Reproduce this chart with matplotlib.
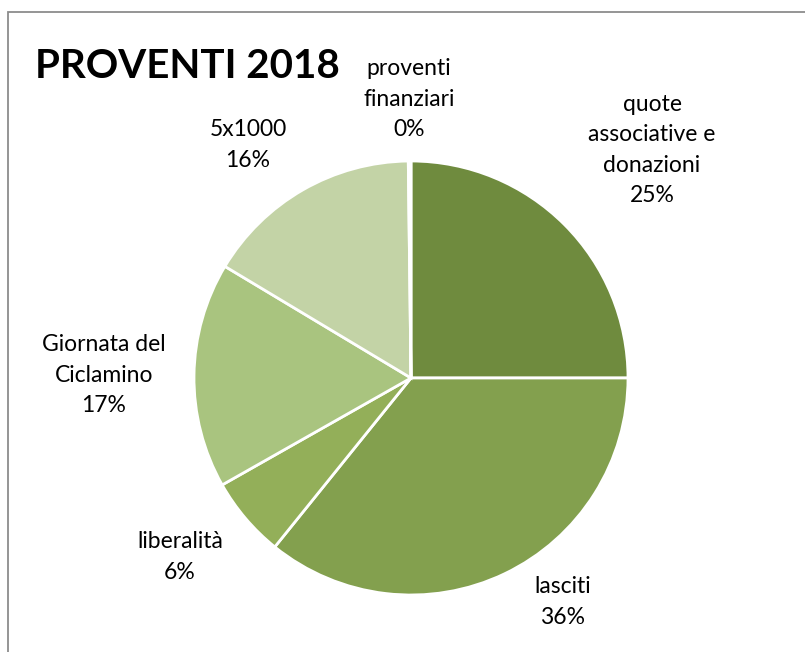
import matplotlib.pyplot as plt
from matplotlib.patches import Rectangle

# data (percent shares), clockwise from 12 o'clock
categories = ["quote\nassociative e\ndonazioni", "lasciti", "liberalità",
              "Giornata del\nCiclamino", "5x1000", "proventi\nfinanziari"]
shares = [25.0, 35.8, 6.0, 16.8, 16.2, 0.2]
colors = ["#6F8B3E", "#83A04E", "#93AF59", "#A9C47F", "#C3D3A6", "#D8E4C8"]

# label anchor points in pixels (x, y from top)
label_pos = [(652, 150), (563, 602), (180, 557), (104, 375), (248, 145), (409, 99)]

W, H = 805, 652
fig = plt.figure(figsize=(W / 100, H / 100), dpi=100)
ax = fig.add_axes([0, 0, 1, 1])

# chart frame (right and bottom edges fall outside the picture)
fig.patches.append(Rectangle((8 / W, -0.1), 1.2, (H - 12) / H + 0.1,
                             transform=fig.transFigure, fill=False,
                             edgecolor="#8C8C8C", linewidth=1.3))

wedges, _ = ax.pie(shares, colors=colors, startangle=90, counterclock=False,
                   center=(411, H - 378), radius=217,
                   wedgeprops=dict(edgecolor="white", linewidth=2))

ax.set_xlim(0, W)
ax.set_ylim(0, H)
ax.set_aspect("equal")
ax.axis("off")

total = sum(shares)
for name, val, (px, py) in zip(categories, shares, label_pos):
    ax.text(px, H - py, f"{name}\n{val / total * 100:.0f}%", ha="center", va="center",
            fontsize=16.5, family="Lato", linespacing=1.55, color="#000000")

fig.text(35 / W, 1 - 66 / H, "PROVENTI 2018", ha="left", va="center",
         fontsize=29, fontweight="bold", family="Lato", color="#000000")

fig.savefig("out.png", dpi=100)
